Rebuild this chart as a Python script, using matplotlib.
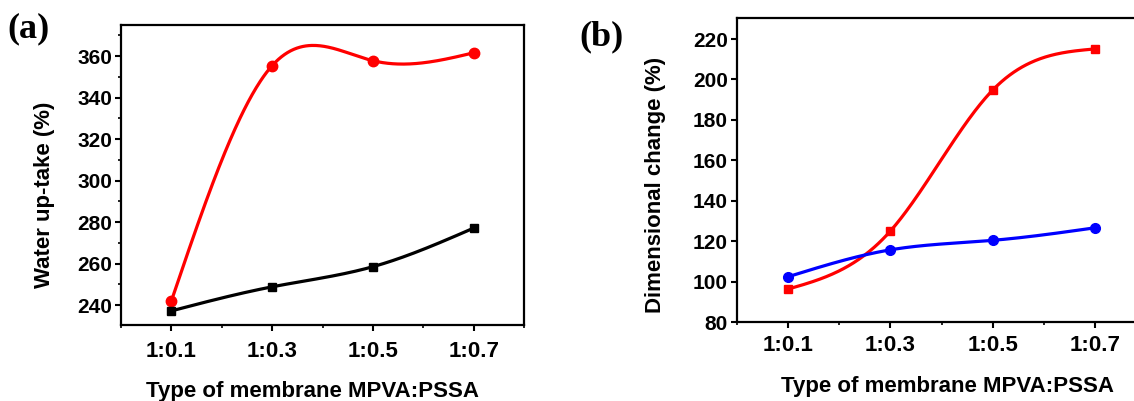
import numpy as np
import matplotlib
matplotlib.use("Agg")
import matplotlib.pyplot as plt
from matplotlib.ticker import MultipleLocator, FixedLocator

# membrane ratios MPVA:PSSA
categories = ["1:0.1", "1:0.3", "1:0.5", "1:0.7"]

# (a) water up-take (%)
uptake_red = [242.0, 355.4, 357.8, 361.6]
uptake_black = [237.2, 248.8, 258.5, 277.1]

# (b) dimensional change (%)
dim_red = [96.3, 125.0, 194.7, 215.1]
dim_blue = [102.4, 115.7, 120.4, 126.6]

plt.rcParams['font.family'] = ['Liberation Sans', 'DejaVu Sans']
plt.rcParams['font.weight'] = 'bold'


def natural_spline(y, n=300):
    # natural cubic spline through equally spaced points (like Origin's spline line)
    y = np.asarray(y, dtype=float)
    k = len(y)
    A = np.zeros((k, k))
    b = np.zeros(k)
    A[0, 0] = 1
    A[-1, -1] = 1
    for i in range(1, k - 1):
        A[i, i - 1] = 1
        A[i, i] = 4
        A[i, i + 1] = 1
        b[i] = 6 * (y[i - 1] - 2 * y[i] + y[i + 1])
    M = np.linalg.solve(A, b)
    xs = np.linspace(0, k - 1, n)
    idx = np.clip(np.floor(xs).astype(int), 0, k - 2)
    t = xs - idx
    ys = ((1 - t) * y[idx] + t * y[idx + 1]
          + (((1 - t) ** 3 - (1 - t)) * M[idx] + (t ** 3 - t) * M[idx + 1]) / 6)
    return xs, ys


def style_axes(ax, minor_y):
    for s in ax.spines.values():
        s.set_linewidth(1.6)
    ax.set_xlim(-0.5, len(categories) - 0.5)
    ax.xaxis.set_major_locator(FixedLocator(range(len(categories))))
    ax.set_xticklabels(categories)
    ax.xaxis.set_minor_locator(MultipleLocator(0.5))
    if minor_y:
        ax.yaxis.set_minor_locator(MultipleLocator(10))
    ax.tick_params(which='major', direction='out', length=4.5, width=1.5,
                   top=False, right=False)
    ax.tick_params(which='minor', direction='out', length=2.5, width=1.2,
                   top=False, right=False)
    ax.tick_params(axis='y', labelsize=15, pad=2)
    ax.tick_params(axis='x', labelsize=16)


fig = plt.figure(figsize=(11.34, 4.01), dpi=100)
W, H = 1134, 401

# panel (a)
ax1 = fig.add_axes([121 / W, (H - 325) / H, (524 - 121) / W, (325 - 25) / H])
x = np.arange(len(categories))
xs, ys = natural_spline(uptake_red)
ax1.plot(xs, ys, color='#ff0000', lw=2.3)
ax1.plot(x, uptake_red, 'o', color='#ff0000', ms=7.5)
xs, ys = natural_spline(uptake_black)
ax1.plot(xs, ys, color='black', lw=2.3)
ax1.plot(x, uptake_black, 's', color='black', ms=6)
style_axes(ax1, True)
ax1.set_ylim(230.4, 375)
ax1.yaxis.set_major_locator(MultipleLocator(20))
ax1.tick_params(axis='x', pad=7)
ax1.set_ylabel("Water up-take (%)", fontsize=16, fontweight='bold')
ax1.yaxis.set_label_coords(-0.165, 0.433)
ax1.set_xlabel("Type of membrane MPVA:PSSA", fontsize=16, fontweight='bold')
ax1.xaxis.set_label_coords(0.474, -0.185)

# panel (b)
ax2 = fig.add_axes([737 / W, (H - 322) / H, (1146 - 737) / W, (322 - 18) / H])
xs, ys = natural_spline(dim_red)
ax2.plot(xs, ys, color='#ff0000', lw=2.3)
ax2.plot(x, dim_red, 's', color='#ff0000', ms=6)
xs, ys = natural_spline(dim_blue)
ax2.plot(xs, ys, color='#0000ff', lw=2.3)
ax2.plot(x, dim_blue, 'o', color='#0000ff', ms=7)
style_axes(ax2, False)
ax2.set_ylim(80, 230.4)
ax2.yaxis.set_major_locator(MultipleLocator(20))
ax2.tick_params(axis='x', pad=5)
ax2.set_ylabel("Dimensional change (%)", fontsize=16, fontweight='bold')
ax2.yaxis.set_label_coords(-0.174, 0.45)
ax2.set_xlabel("Type of membrane MPVA:PSSA", fontsize=16, fontweight='bold')
ax2.xaxis.set_label_coords(0.515, -0.178)

fig.text(7 / W, 1 - 29 / H, "(a)", fontsize=26, fontweight='bold',
         family='Liberation Serif', va='center', ha='left')
fig.text(579 / W, 1 - 37 / H, "(b)", fontsize=26, fontweight='bold',
         family='Liberation Serif', va='center', ha='left')

fig.savefig("out.png", dpi=100)
